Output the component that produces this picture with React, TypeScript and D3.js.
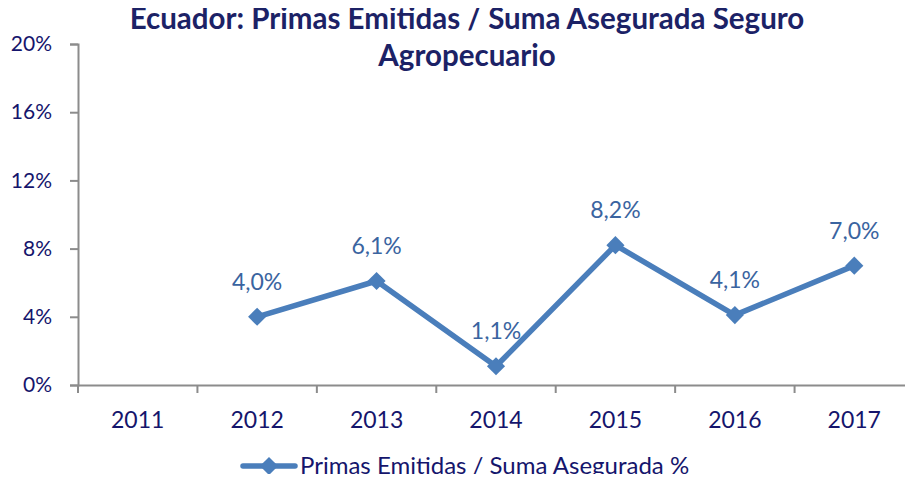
import React, { useEffect, useRef } from 'react'
import * as d3 from 'd3'

const years = ['2011', '2012', '2013', '2014', '2015', '2016', '2017']
const ratios: (number | null)[] = [null, 4.0, 6.1, 1.1, 8.2, 4.1, 7.0]
const yTicks = [0, 4, 8, 12, 16, 20]
const titleLines = ['Ecuador: Primas Emitidas / Suma Asegurada Seguro', 'Agropecuario']
const seriesName = 'Primas Emitidas / Suma Asegurada %'

const W = 913
const H = 482
const FONT = 'Lato, "Open Sans", sans-serif'
const NAVY = '#15156c'
const LINE = '#4a7ebb'
const LABEL = '#3a64a0'
const AXIS = '#8c8c8c'

function App() {
  const svgRef = useRef<SVGSVGElement>(null)

  useEffect(() => {
    const svg = d3.select(svgRef.current)
    svg.selectAll('*').remove()

    const x = d3.scaleBand().domain(years).range([78, 914])
    const y = d3.scaleLinear().domain([0, 20]).range([385, 44])

    // title
    svg.append('g')
      .selectAll('text')
      .data(titleLines)
      .join('text')
      .attr('x', 467)
      .attr('y', (d, i) => 29 + i * 37)
      .attr('text-anchor', 'middle')
      .attr('font-family', FONT)
      .attr('font-weight', 'bold')
      .attr('font-size', 29.5)
      .attr('fill', '#1c2266')
      .text(d => d)

    // y axis
    const yAxis = svg.append('g')
      .attr('transform', 'translate(78,0)')
      .call(d3.axisLeft(y).tickValues(yTicks).tickSize(8).tickPadding(18).tickFormat(d => `${d}%`))
    yAxis.select('.domain').attr('stroke', AXIS).attr('stroke-width', 2)
    yAxis.selectAll('.tick line').attr('stroke', AXIS).attr('stroke-width', 2)
    yAxis.selectAll('.tick text')
      .attr('font-family', FONT).attr('font-size', 21).attr('fill', NAVY)

    // x axis
    const xAxis = svg.append('g')
      .attr('transform', 'translate(0,385)')
      .call(d3.axisBottom(x).tickSize(0).tickPadding(27))
    xAxis.select('.domain').attr('stroke', AXIS).attr('stroke-width', 2)
    xAxis.selectAll('.tick text')
      .attr('font-family', FONT).attr('font-size', 23).attr('fill', NAVY)
    xAxis.selectAll('line.sep')
      .data(years)
      .join('line')
      .attr('class', 'sep')
      .attr('x1', d => x(d)!)
      .attr('x2', d => x(d)!)
      .attr('y1', 0)
      .attr('y2', 8)
      .attr('stroke', AXIS)
      .attr('stroke-width', 2)

    const pts = years
      .map((yr, i) => ({ yr, v: ratios[i] }))
      .filter(d => d.v !== null) as { yr: string; v: number }[]
    const cx = (d: { yr: string }) => x(d.yr)! + x.bandwidth() / 2

    const line = d3.line<{ yr: string; v: number }>()
      .x(cx)
      .y(d => y(d.v))

    svg.append('path')
      .datum(pts)
      .attr('fill', 'none')
      .attr('stroke', LINE)
      .attr('stroke-width', 5.5)
      .attr('stroke-linejoin', 'round')
      .attr('d', line)

    const diamond = d3.symbol().type(d3.symbolDiamond2).size(210)
    svg.append('g')
      .selectAll('path')
      .data(pts)
      .join('path')
      .attr('transform', d => `translate(${cx(d)},${y(d.v)})`)
      .attr('d', diamond)
      .attr('fill', LINE)

    svg.append('g')
      .selectAll('text')
      .data(pts)
      .join('text')
      .attr('x', cx)
      .attr('y', d => y(d.v) - 27)
      .attr('text-anchor', 'middle')
      .attr('font-family', FONT)
      .attr('font-size', 23)
      .attr('fill', LABEL)
      .text(d => d.v.toFixed(1).replace('.', ',') + '%')

    // legend
    const lg = svg.append('g').attr('transform', 'translate(243,466)')
    lg.append('line')
      .attr('x1', 0).attr('x2', 52)
      .attr('stroke', LINE).attr('stroke-width', 5.5).attr('stroke-linecap', 'round')
    lg.append('path')
      .attr('transform', 'translate(26,0)')
      .attr('d', diamond)
      .attr('fill', LINE)
    lg.append('text')
      .attr('x', 57)
      .attr('y', 8)
      .attr('font-family', FONT)
      .attr('font-size', 24)
      .attr('fill', NAVY)
      .text(seriesName)
  }, [])

  return <svg ref={svgRef} width={W} height={H} style={{ display: 'block', margin: '-8px' }}></svg>
}

export default App
